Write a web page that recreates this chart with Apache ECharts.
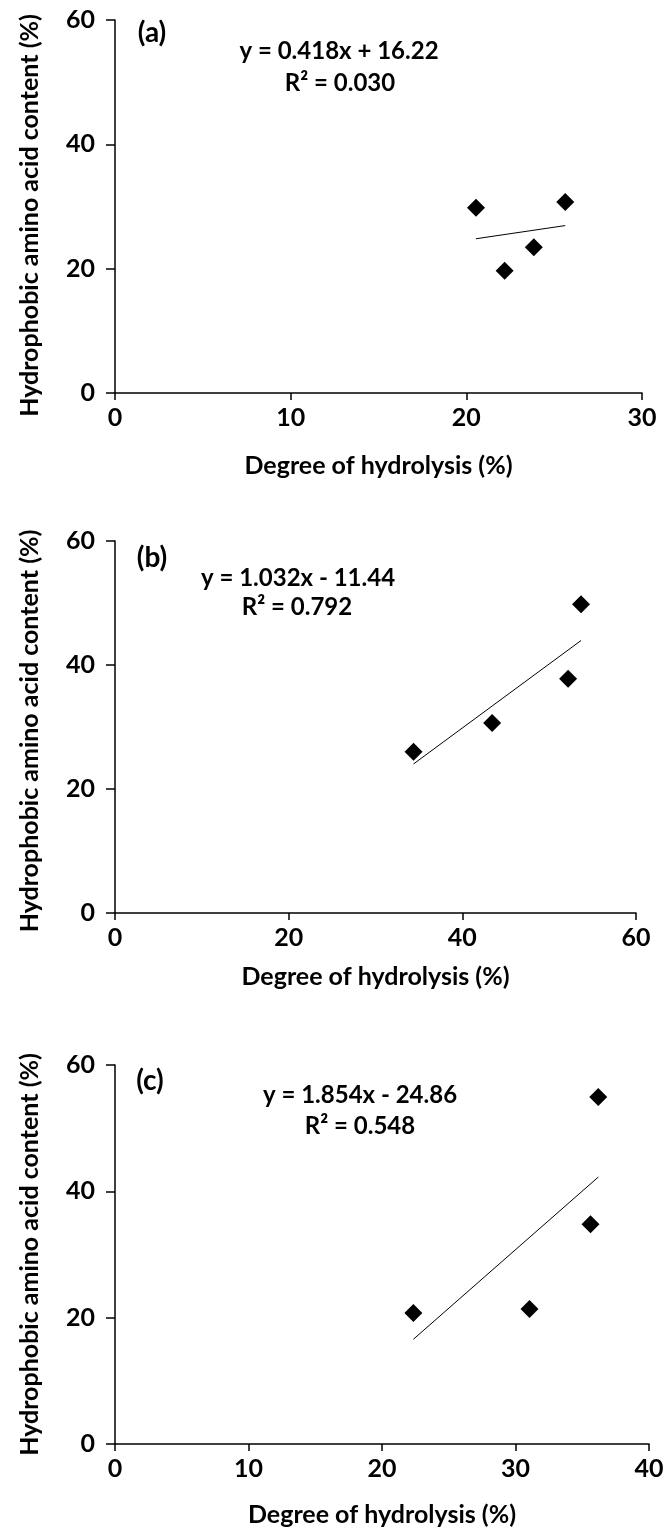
<!DOCTYPE html>
<html lang="en">
<head>
    <meta charset="UTF-8">
    <title>Hydrophobic amino acid content vs degree of hydrolysis</title>
    <script src="https://cdn.jsdelivr.net/npm/echarts@6/dist/echarts.min.js"></script>
    <style>
        html, body { margin: 0; padding: 0; background: #fff; }
    </style>
</head>
<body>
<div id="main" style="width: 664px;height: 1530px;"></div>
<script>
    // degree of hydrolysis (%) and hydrophobic amino acid content (%)
    var xA = [20.55, 22.18, 23.84, 25.63];
    var yA = [29.79, 19.67, 23.46, 30.74];
    var xB = [34.38, 43.43, 52.18, 53.67];
    var yB = [25.99, 30.66, 37.78, 49.78];
    var xC = [22.35, 31.05, 35.62, 36.20];
    var yC = [20.73, 21.37, 34.78, 54.92];

    // linear fits printed on the panels
    var slopes = [0.418, 1.032, 1.854];
    var intercepts = [16.22, -11.44, -24.86];
    var eqTexts = ['y = 0.418x + 16.22', 'y = 1.032x - 11.44', 'y = 1.854x - 24.86'];
    var r2Texts = ['R\u00b2 = 0.030', 'R\u00b2 = 0.792', 'R\u00b2 = 0.548'];
    var panelTags = ['(a)', '(b)', '(c)'];

    // axes
    var xMax = [30, 60, 40];
    var xStep = [10, 20, 10];
    var yMax = 60, yStep = 20;

    var font = 'Lato, "Open Sans", sans-serif';
    var xs = [xA, xB, xC], ys = [yA, yB, yC];

    var grids = [
        {left: 115, top: 20, width: 527, height: 373, outerBoundsMode: 'none', containLabel: false},
        {left: 115, top: 541, width: 521, height: 372, outerBoundsMode: 'none', containLabel: false},
        {left: 115, top: 1065, width: 534, height: 379, outerBoundsMode: 'none', containLabel: false}
    ];
    var nameGaps = [60, 51, 58];
    var yNameShift = [18, 8, 0]; // nudges the rotated y title down a little

    var myChart = echarts.init(document.getElementById('main'));
    var xAxes = [], yAxes = [], series = [], graphic = [];

    for (let i = 0; i < 3; ++i) {
        xAxes.push({
            gridIndex: i, type: 'value', min: 0, max: xMax[i], interval: xStep[i],
            name: 'Degree of hydrolysis (%)', nameLocation: 'middle', nameGap: nameGaps[i],
            nameTextStyle: {fontFamily: font, fontSize: 25, fontWeight: 'bold', color: '#000'},
            axisLine: {show: true, onZero: false, lineStyle: {color: '#000', width: 1.5}},
            axisTick: {show: true, length: 7, lineStyle: {color: '#000', width: 1.5}},
            axisLabel: {fontFamily: font, fontSize: 25, fontWeight: 'bold', color: '#000', margin: 12},
            splitLine: {show: false}
        });
        yAxes.push({
            gridIndex: i, type: 'value', min: 0, max: yMax, interval: yStep,
            name: 'Hydrophobic amino acid content (%)', nameLocation: 'middle', nameGap: 73,
            nameTextStyle: {fontFamily: font, fontSize: 25, fontWeight: 'bold', color: '#000',
                padding: [0, yNameShift[i], 0, 0]},
            axisLine: {show: true, onZero: false, lineStyle: {color: '#000', width: 1.5}},
            axisTick: {show: true, length: 9, lineStyle: {color: '#000', width: 1.5}},
            axisLabel: {fontFamily: font, fontSize: 25, fontWeight: 'bold', color: '#000', margin: 20},
            splitLine: {show: false}
        });

        var pts = [];
        for (let j = 0; j < xs[i].length; ++j) pts.push([xs[i][j], ys[i][j]]);
        series.push({
            type: 'scatter', xAxisIndex: i, yAxisIndex: i, data: pts,
            symbol: 'diamond', symbolSize: 18,
            itemStyle: {color: '#000', opacity: 1}
        });

        // trend line over the range of the data
        var x0 = Math.min.apply(null, xs[i]), x1 = Math.max.apply(null, xs[i]);
        series.push({
            type: 'line', xAxisIndex: i, yAxisIndex: i,
            data: [[x0, slopes[i] * x0 + intercepts[i]], [x1, slopes[i] * x1 + intercepts[i]]],
            symbol: 'none', lineStyle: {color: '#000', width: 1}, silent: true
        });
    }

    // panel tags and fit equations
    var tagPos = [[152, 33], [152, 558], [150, 1081]];
    var eqPos = [[339, 51], [298, 578], [360, 1095]];
    var r2Pos = [[340, 83], [297, 607], [360, 1126]];
    for (let i = 0; i < 3; ++i) {
        graphic.push({type: 'text', x: tagPos[i][0], y: tagPos[i][1],
            style: {text: panelTags[i], font: 'bold 28px ' + font, fill: '#000', align: 'center', verticalAlign: 'middle'}});
        graphic.push({type: 'text', x: eqPos[i][0], y: eqPos[i][1],
            style: {text: eqTexts[i], font: 'bold 24px ' + font, fill: '#000', align: 'center', verticalAlign: 'middle'}});
        graphic.push({type: 'text', x: r2Pos[i][0], y: r2Pos[i][1],
            style: {text: r2Texts[i], font: 'bold 24px ' + font, fill: '#000', align: 'center', verticalAlign: 'middle'}});
    }

    var option = {
        backgroundColor: '#fff',
        animation: false,
        grid: grids,
        xAxis: xAxes,
        yAxis: yAxes,
        series: series,
        graphic: graphic
    };
    myChart.setOption(option);
</script>
</body>
</html>
